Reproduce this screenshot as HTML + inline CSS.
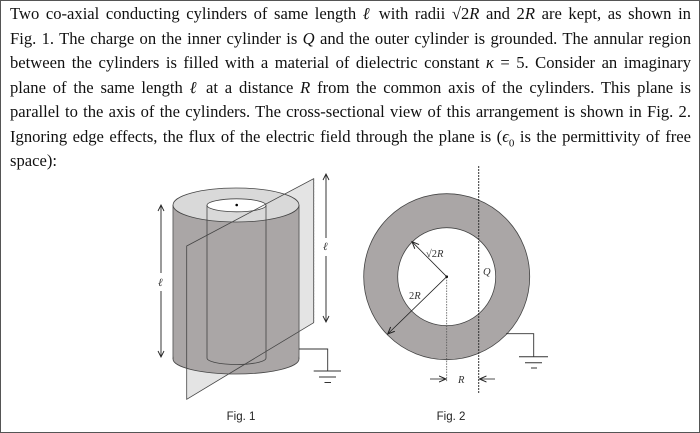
<!DOCTYPE html>
<html><head><meta charset="utf-8"><style>
html,body{margin:0;padding:0;background:#fff}
.wrap{position:relative;width:698px;height:431px;border:1px solid #555;overflow:hidden}
.t{position:absolute;left:9px;width:681px;font-family:"Liberation Serif",serif;font-size:16.6px;color:#111;text-align:justify;text-align-last:justify;white-space:nowrap;line-height:20px}
.t.l{text-align-last:left}
i{font-style:italic}
svg{position:absolute;left:0;top:0}
</style></head><body><div class="wrap">
<div class="t" style="top:3px">Two co-axial conducting cylinders of same length <i>ℓ</i> with radii √2<i>R</i> and 2<i>R</i> are kept, as shown in</div>
<div class="t" style="top:27.5px">Fig. 1. The charge on the inner cylinder is <i>Q</i> and the outer cylinder is grounded. The annular region</div>
<div class="t" style="top:52px">between the cylinders is filled with a material of dielectric constant <i>κ</i> = 5. Consider an imaginary</div>
<div class="t" style="top:76.5px">plane of the same length <i>ℓ</i> at a distance <i>R</i> from the common axis of the cylinders. This plane is</div>
<div class="t" style="top:101px">parallel to the axis of the cylinders. The cross-sectional view of this arrangement is shown in Fig. 2.</div>
<div class="t" style="top:125.5px">Ignoring edge effects, the flux of the electric field through the plane is (<i>ϵ</i><sub style="font-size:11px">0</sub> is the permittivity of free</div>
<div class="t l" style="top:150px">space):</div>
<svg width="700" height="433" viewBox="0 0 700 433" font-family="Liberation Serif, serif">
<defs><marker id="a" markerWidth="8" markerHeight="8" refX="7" refY="4" orient="auto" markerUnits="userSpaceOnUse"><path d="M0,1 L7,4 L0,7" fill="none" stroke="#222" stroke-width="1"/></marker></defs>
<!-- Fig 1 -->
<polygon points="185.7,245 312.7,177.7 312.7,321.7 185.7,398.3" fill="#e4e4e4"/>
<ellipse cx="235" cy="358" rx="63" ry="15" fill="#aaa6a6" stroke="#444" stroke-width="0.8"/>
<rect x="172.4" y="204" width="125.2" height="154" fill="#aaa6a6"/>
<line x1="172" y1="204" x2="172" y2="358" stroke="#444" stroke-width="0.8"/>
<line x1="298" y1="204" x2="298" y2="358" stroke="#444" stroke-width="0.8"/>
<ellipse cx="235" cy="204" rx="63" ry="17" fill="#d9d9d9" stroke="#444" stroke-width="0.8"/>
<ellipse cx="235.5" cy="204.3" rx="29.5" ry="6.5" fill="#fff" stroke="#444" stroke-width="0.8"/>
<path d="M206,204 V357 A29.5,6.5 0 0 0 265,357 V204" fill="none" stroke="#444" stroke-width="0.8"/>
<circle cx="235.7" cy="204" r="1.3" fill="#000"/>
<polygon points="185.7,245 312.7,177.7 312.7,321.7 185.7,398.3" fill="none" stroke="#444" stroke-width="0.8"/>
<line x1="312.7" y1="177.7" x2="312.7" y2="321.7" stroke="#666" stroke-width="0.8" stroke-dasharray="2,1"/>
<path d="M160,205 V272 M160,290 V356" stroke="#222" stroke-width="0.9"/>
<path d="M157,210 L160,204 L163,210 M157,350 L160,356 L163,350" fill="none" stroke="#222" stroke-width="0.9"/>
<text x="157" y="285" font-size="11" font-style="italic" fill="#333">ℓ</text>
<path d="M325,173 V237 M325,255 V321" stroke="#222" stroke-width="0.9"/>
<path d="M322,179 L325,173 L328,179 M322,315 L325,321 L328,315" fill="none" stroke="#222" stroke-width="0.9"/>
<text x="322" y="249" font-size="11" font-style="italic" fill="#333">ℓ</text>
<path d="M298,348 H326.7 V370" fill="none" stroke="#333" stroke-width="0.9"/>
<path d="M312.7,370 H340 M318,376 H335 M323.5,381.5 H330" stroke="#333" stroke-width="1"/>
<text x="240" y="419" font-size="11.5" text-anchor="middle" fill="#222" font-family="Liberation Sans, sans-serif">Fig. 1</text>
<!-- Fig 2 -->
<circle cx="445.7" cy="275.7" r="83" fill="#aaa6a6" stroke="#444" stroke-width="0.8"/>
<circle cx="445.7" cy="275.7" r="49" fill="#fff" stroke="#444" stroke-width="0.8"/>
<line x1="477.7" y1="165" x2="477.7" y2="393" stroke="#333" stroke-width="1" stroke-dasharray="2,1"/>
<line x1="445.7" y1="276" x2="445.7" y2="381" stroke="#555" stroke-width="0.8" stroke-dasharray="1.5,1.2"/>
<circle cx="445.7" cy="275.7" r="1.3" fill="#000"/>
<line x1="445.7" y1="275.7" x2="411" y2="240.7" stroke="#222" stroke-width="0.8" marker-end="url(#a)"/>
<line x1="445.7" y1="275.7" x2="386.7" y2="333" stroke="#222" stroke-width="0.8" marker-end="url(#a)"/>
<text x="425" y="256" font-size="10.5" fill="#333">√2<tspan font-style="italic">R</tspan></text>
<text x="408" y="298" font-size="10.5" fill="#333">2<tspan font-style="italic">R</tspan></text>
<text x="482" y="274" font-size="10.5" font-style="italic" fill="#333">Q</text>
<line x1="429" y1="378" x2="445" y2="378" stroke="#222" stroke-width="0.8" marker-end="url(#a)"/>
<line x1="494" y1="378" x2="478.5" y2="378" stroke="#222" stroke-width="0.8" marker-end="url(#a)"/>
<text x="457" y="382" font-size="10.5" font-style="italic" fill="#333">R</text>
<path d="M505,332.7 H532.7 V355.7" fill="none" stroke="#333" stroke-width="0.9"/>
<path d="M518,355.7 H547 M524,361.7 H541 M530,367 H536" stroke="#333" stroke-width="1"/>
<text x="450" y="419" font-size="11.5" text-anchor="middle" fill="#222" font-family="Liberation Sans, sans-serif">Fig. 2</text>
</svg>
</div></body></html>
